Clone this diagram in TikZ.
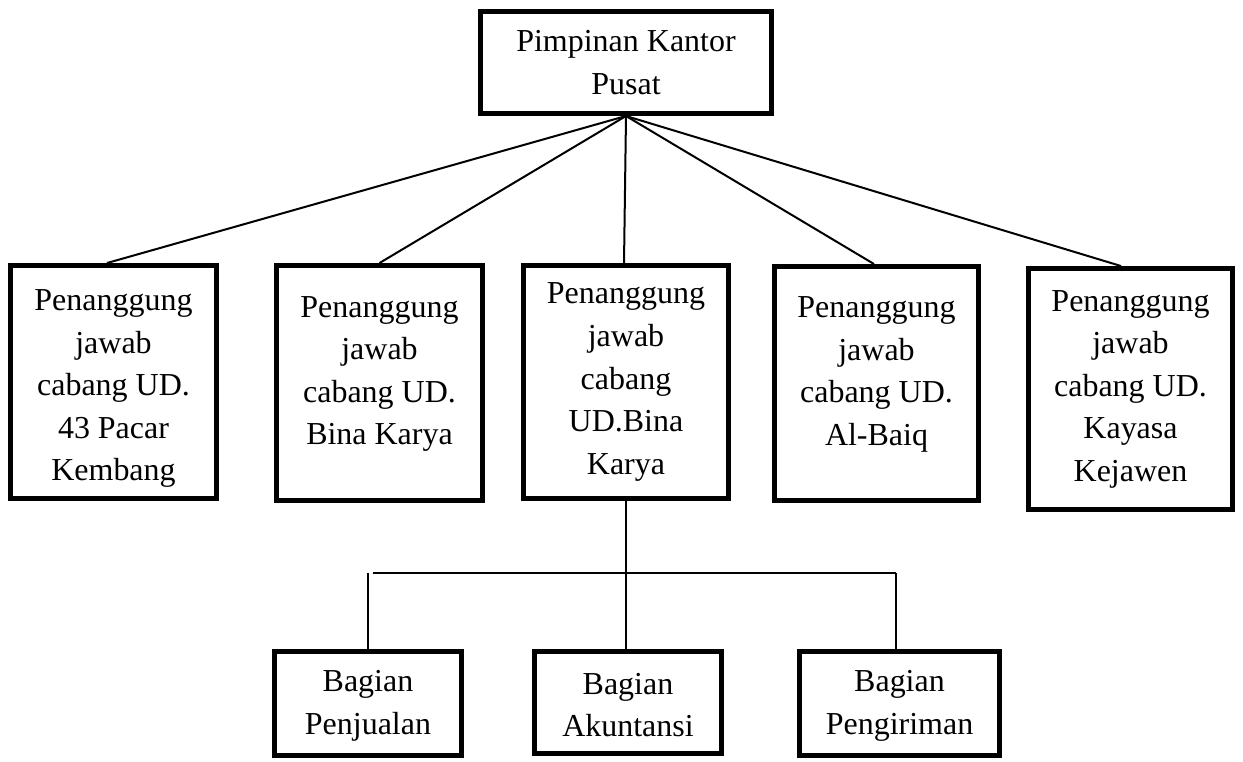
\documentclass[tikz,border=0pt]{standalone}
\usepackage{fontspec}
\setmainfont{Liberation Serif}
\usetikzlibrary{positioning}

\begin{document}
\begin{tikzpicture}[x=0.02cm, y=-0.02cm,
    every node/.style={font=\fontsize{18.2}{24.2}\selectfont, text=black},
    unit/.style={draw, line width=0.1cm, align=center, inner sep=0pt},
    cab/.style={unit, minimum width=4.12cm, minimum height=4.66cm},
    bag/.style={unit, minimum width=3.74cm, minimum height=2.08cm, text height=39pt},
    fourline/.style={text depth=14pt},
    link/.style={draw, line width=0.04cm},
  ]
  \useasboundingbox (0,0) rectangle (1243,761);

  % head office at the top
  \node[unit, minimum width=5.82cm, minimum height=2.04cm] (pusat) at (626,62.5)
        {Pimpinan Kantor\\Pusat};

  % the five branches
  \node[cab, text height=116.5pt] (cab1) at (113.5,382) {Penanggung\\jawab\\cabang UD.\\43 Pacar\\Kembang};
  \node[cab, fourline, minimum height=4.70cm] (cab2) at (379.5,383)
        {Penanggung\\jawab\\cabang UD.\\Bina Karya};
  \node[cab] (cab3) at (626,382) {Penanggung\\jawab\\cabang\\UD.Bina\\Karya};
  \node[cab, fourline, minimum width=4.08cm, minimum height=4.68cm] (cab4) at (876.5,383.5)
        {Penanggung\\jawab\\cabang UD.\\Al-Baiq};
  \node[cab, minimum width=4.08cm, minimum height=4.82cm] (cab5) at (1130.5,389)
        {Penanggung\\jawab\\cabang UD.\\Kayasa\\Kejawen};

  \foreach \c/\dx in {cab1/-6.5, cab2/0, cab3/-2, cab4/-2.5, cab5/-9.5}
    \draw[link] (pusat.south) -- ([xshift=\dx*0.02cm]\c.north);

  % sections under UD.Bina Karya
  \node[bag] (pjl) at (368,703.5) {Bagian\\Penjualan};
  \node[bag, minimum height=2.04cm] (akt) at (628,702.5) {Bagian\\Akuntansi};
  \node[bag, minimum width=4.00cm] (krm) at (899.5,703.5) {Bagian\\Pengiriman};

  \coordinate (barL) at (373,573);
  \coordinate (barR) at (896,573);
  \draw[link] (cab3.south) -- (cab3.south |- akt.north);
  \draw[link] (barL) -- (barR);
  \draw[link] (pjl.north) -- (pjl.north |- barL);
  \draw[link] (krm.north -| barR) -- (barR);
\end{tikzpicture}
\end{document}
